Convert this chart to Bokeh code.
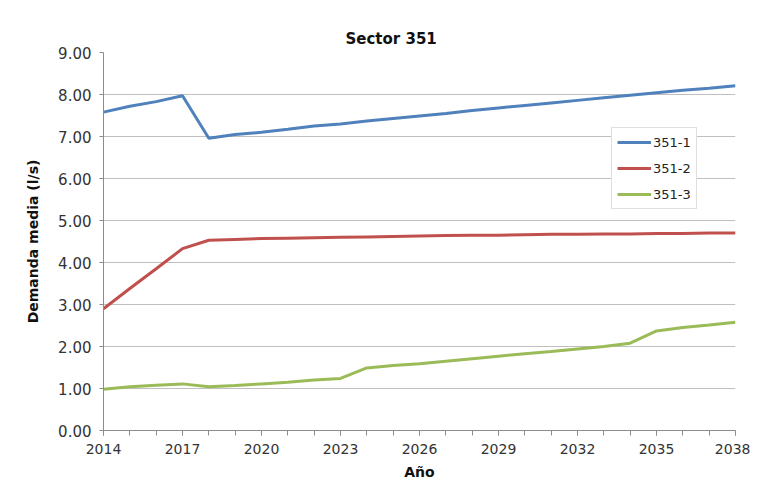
from bokeh.plotting import figure
from bokeh.models import (Range1d, FixedTicker, NumeralTickFormatter, Legend, LegendItem, Title)
from bokeh.embed import file_html
from bokeh.resources import INLINE

years = list(range(2014, 2039))
s351_1 = [7.58, 7.72, 7.83, 7.97, 6.96, 7.05, 7.10, 7.17, 7.25, 7.30, 7.37, 7.43, 7.49,
          7.55, 7.62, 7.68, 7.74, 7.80, 7.86, 7.92, 7.98, 8.04, 8.10, 8.15, 8.21]
s351_2 = [2.90, 3.38, 3.85, 4.33, 4.53, 4.55, 4.57, 4.58, 4.59, 4.60, 4.61, 4.62, 4.63,
          4.64, 4.65, 4.65, 4.66, 4.67, 4.67, 4.68, 4.68, 4.69, 4.69, 4.70, 4.70]
s351_3 = [0.98, 1.04, 1.08, 1.11, 1.04, 1.07, 1.11, 1.15, 1.20, 1.24, 1.49, 1.55, 1.59,
          1.65, 1.71, 1.77, 1.83, 1.88, 1.94, 2.00, 2.08, 2.37, 2.45, 2.51, 2.58]
series_names = ["351-1", "351-2", "351-3"]
series_colors = ["#4F81BD", "#C0504D", "#9BBB59"]
x_tick_labels = [2014, 2017, 2020, 2023, 2026, 2029, 2032, 2035, 2038]
y_ticks = [0, 1, 2, 3, 4, 5, 6, 7, 8, 9]

FONT = "DejaVu Sans"

p = figure(frame_width=632, frame_height=378, output_backend="svg", toolbar_location=None,
           x_range=Range1d(2014, 2038), y_range=Range1d(0, 9),
           min_border_left=103, min_border_right=15, min_border_top=52, min_border_bottom=48)
p.outline_line_color = None
p.background_fill_color = "white"
p.border_fill_color = "white"

t = Title(text="Sector 351", align="left", offset=242, text_font=FONT,
          text_font_size="15px", text_font_style="bold", text_color="#111111")
p.add_layout(t, "above")

items = []
for name, vals, col in zip(series_names, [s351_1, s351_2, s351_3], series_colors):
    r = p.line(years, vals, line_color=col, line_width=3)
    items.append(LegendItem(label=name, renderers=[r]))

legend = Legend(items=items, location=(508, 221), label_text_font=FONT,
                label_text_font_size="13px", label_text_color="#222222",
                glyph_width=34, glyph_height=18, label_height=18, spacing=8,
                padding=5, margin=0, label_standoff=2,
                border_line_color="#BFBFBF", border_line_width=1,
                background_fill_color="white", background_fill_alpha=1)
p.add_layout(legend, "center")

# x axis
p.xaxis.ticker = FixedTicker(ticks=x_tick_labels, minor_ticks=years)
p.xaxis.axis_line_color = "#8C8C8C"
p.xaxis.major_tick_line_color = "#8C8C8C"
p.xaxis.minor_tick_line_color = "#8C8C8C"
p.xaxis.major_tick_out = 5
p.xaxis.major_tick_in = 0
p.xaxis.minor_tick_out = 5
p.xaxis.minor_tick_in = 0
p.xaxis.major_label_text_font = FONT
p.xaxis.major_label_text_font_size = "14px"
p.xaxis.major_label_text_color = "#333333"
p.xaxis.major_label_standoff = 8
p.xaxis.axis_label = "Año"
p.xaxis.axis_label_text_font = FONT
p.xaxis.axis_label_text_font_size = "14px"
p.xaxis.axis_label_text_font_style = "bold"
p.xaxis.axis_label_text_color = "#111111"
p.xaxis.axis_label_standoff = 7

# y axis
p.yaxis.ticker = FixedTicker(ticks=y_ticks)
p.yaxis.formatter = NumeralTickFormatter(format="0.00")
p.yaxis.axis_line_color = "#8C8C8C"
p.yaxis.major_tick_line_color = "#8C8C8C"
p.yaxis.major_tick_out = 4
p.yaxis.major_tick_in = 0
p.yaxis.minor_tick_line_color = None
p.yaxis.major_label_text_font = FONT
p.yaxis.major_label_text_font_size = "15px"
p.yaxis.major_label_text_color = "#333333"
p.yaxis.major_label_standoff = 8
p.yaxis.axis_label = "Demanda media (l/s)"
p.yaxis.axis_label_text_font = FONT
p.yaxis.axis_label_text_font_size = "14px"
p.yaxis.axis_label_text_font_style = "bold"
p.yaxis.axis_label_text_color = "#111111"
p.yaxis.axis_label_standoff = 14

p.xgrid.grid_line_color = None
p.ygrid.grid_line_color = "#BFBFBF"
p.ygrid.grid_line_width = 1

open("out.html", "w").write(file_html(p, INLINE))
